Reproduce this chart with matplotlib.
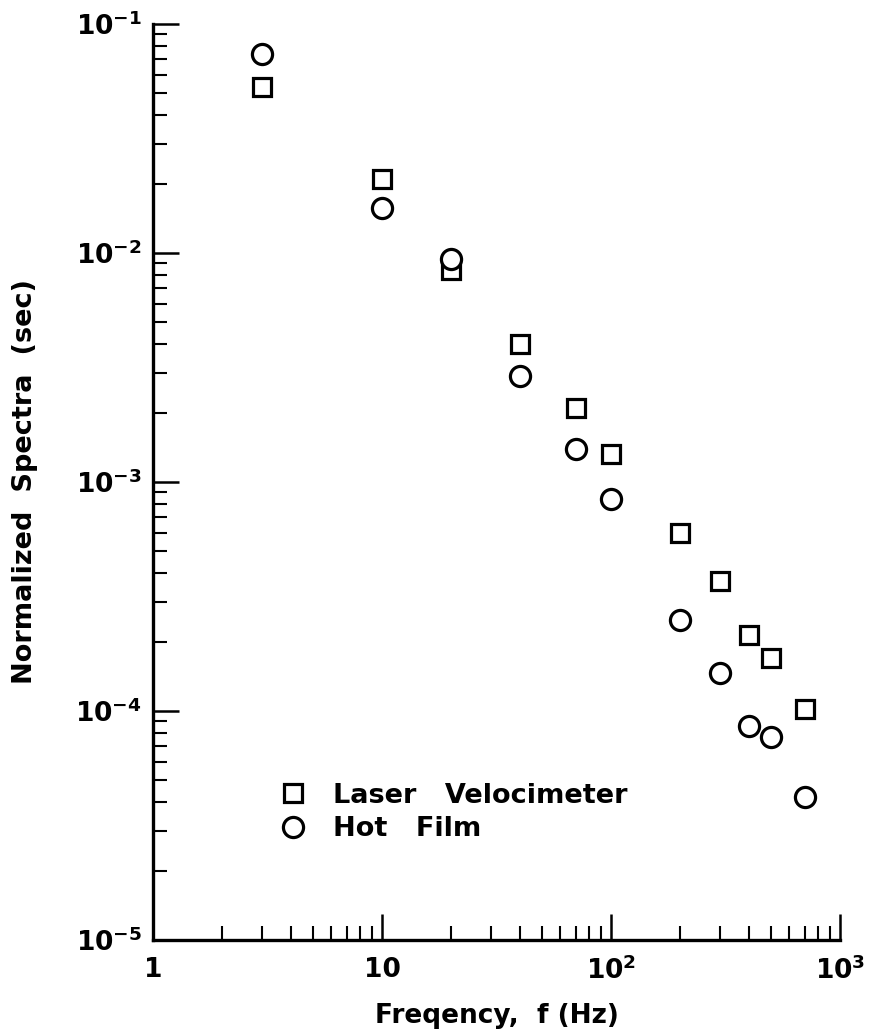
import numpy as np
import matplotlib
matplotlib.use("Agg")
from matplotlib import pyplot as plt
from matplotlib.ticker import FixedLocator, FixedFormatter, LogLocator, NullFormatter

# data
freq = [3, 10, 20, 40, 70, 100, 200, 300, 400, 500, 700]
laser_velocimeter = [5.3e-2, 2.1e-2, 8.4e-3, 4.0e-3, 2.1e-3, 1.33e-3,
                     6.0e-4, 3.7e-4, 2.15e-4, 1.7e-4, 1.02e-4]
hot_film = [7.4e-2, 1.57e-2, 9.4e-3, 2.9e-3, 1.4e-3, 8.4e-4,
            2.5e-4, 1.47e-4, 8.6e-5, 7.7e-5, 4.2e-5]

x_ticks = [1, 10, 100, 1000]
x_ticklabels = ['1', '10', r'$\mathrm{10^{2}}$', r'$\mathrm{10^{3}}$']
y_ticks = [1e-5, 1e-4, 1e-3, 1e-2, 1e-1]
y_ticklabels = [r'$\mathrm{10^{-5}}$', r'$\mathrm{10^{-4}}$',
                r'$\mathrm{10^{-3}}$', r'$\mathrm{10^{-2}}$',
                r'$\mathrm{10^{-1}}$']

plt.rcParams['font.family'] = ['DejaVu Sans']
plt.rcParams['font.weight'] = 'bold'
plt.rcParams['mathtext.fontset'] = 'custom'
plt.rcParams['mathtext.rm'] = 'DejaVu Sans:bold'

fig = plt.figure(figsize=(8.69, 10.36), dpi=100)
ax = fig.add_axes([153 / 869, 1 - 940 / 1036, 687 / 869, 916 / 1036])

ax.plot(freq, laser_velocimeter, linestyle='none', marker='s', markersize=13.5,
        markerfacecolor='white', markeredgecolor='black', markeredgewidth=2.3,
        label='Laser   Velocimeter')
ax.plot(freq, hot_film, linestyle='none', marker='o', markersize=14.5,
        markerfacecolor='white', markeredgecolor='black', markeredgewidth=2.3,
        label='Hot   Film')

ax.set_xscale('log')
ax.set_yscale('log')
ax.set_xlim(1, 1000)
ax.set_ylim(1e-5, 1e-1)

ax.spines['top'].set_visible(False)
ax.spines['right'].set_visible(False)
for s in ['left', 'bottom']:
    ax.spines[s].set_linewidth(2.4)

ax.xaxis.set_major_locator(FixedLocator(x_ticks))
ax.xaxis.set_major_formatter(FixedFormatter(x_ticklabels))
ax.yaxis.set_major_locator(FixedLocator(y_ticks))
ax.yaxis.set_major_formatter(FixedFormatter(y_ticklabels))
ax.xaxis.set_minor_locator(LogLocator(base=10, subs=np.arange(2, 10), numticks=20))
ax.yaxis.set_minor_locator(LogLocator(base=10, subs=np.arange(2, 10), numticks=20))
ax.xaxis.set_minor_formatter(NullFormatter())
ax.yaxis.set_minor_formatter(NullFormatter())

ax.tick_params(which='major', direction='in', length=19, width=1.8, labelsize=19)
ax.tick_params(which='minor', direction='in', length=10, width=1.5)
ax.tick_params(axis='x', which='major', pad=12)
ax.tick_params(axis='y', which='major', pad=8)

ax.set_xlabel('Freqency,  f (Hz)', fontsize=19, fontweight='bold', labelpad=13)
ax.set_ylabel('Normalized  Spectra  (sec)', fontsize=19.5, fontweight='bold', labelpad=27)

ax.legend(loc='lower left', bbox_to_anchor=(0.168, 0.095), frameon=False,
          prop={'size': 19.5, 'weight': 'bold'}, handletextpad=1.0,
          labelspacing=0.28, handlelength=1.0, borderaxespad=0)

fig.savefig('out.png', dpi=100)
